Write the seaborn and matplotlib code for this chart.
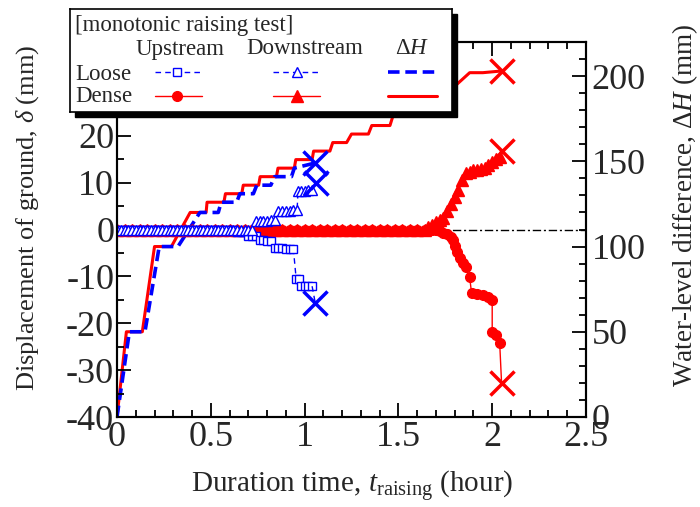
import numpy as np
import pandas as pd
import seaborn as sns
import matplotlib.pyplot as plt
from matplotlib.patches import Rectangle
from matplotlib.ticker import MultipleLocator, FixedLocator

# ---------------- data ----------------
# Water-level difference, Delta H (mm), vs duration time (hour)
t_dH_loose = [0.00, 0.066, 0.149, 0.225, 0.325, 0.442, 0.540, 0.555, 0.638, 0.655,
              0.727, 0.745, 0.820, 0.840, 0.930, 0.945, 1.055]
dH_loose = [0, 50, 50, 100, 100, 120, 120, 126, 126, 131,
            131, 136, 136, 141, 141, 146, 149]

t_dH_dense = [0.00, 0.050, 0.135, 0.200, 0.290, 0.390, 0.475, 0.480, 0.570, 0.578,
              0.665, 0.673, 0.755, 0.763, 0.850, 0.858, 0.945, 0.953, 1.040, 1.048,
              1.135, 1.150, 1.224, 1.250, 1.340, 1.358, 1.455, 1.472, 1.550, 1.570,
              1.650, 1.670, 1.745, 1.760, 1.800, 1.880, 1.950, 2.050]
dH_dense = [0, 50, 50, 100, 100, 120, 120, 126, 126, 131,
            131, 136, 136, 141, 141, 146, 146, 151, 151, 156,
            156, 161, 161, 166, 166, 171, 171, 177, 177, 182,
            182, 187, 187, 192, 194, 202, 202, 203]

# Displacement of ground, delta (mm) -- loose, upstream
t_up_loose = [0.00, 0.02, 0.04, 0.06, 0.08, 0.10, 0.12, 0.14, 0.16, 0.18,
              0.20, 0.22, 0.24, 0.26, 0.28, 0.30, 0.32, 0.34, 0.36, 0.38,
              0.40, 0.42, 0.44, 0.46, 0.48, 0.50, 0.52, 0.54, 0.56, 0.58,
              0.60, 0.62, 0.64, 0.66, 0.68, 0.70, 0.72, 0.74, 0.76, 0.78,
              0.80, 0.82, 0.84, 0.86, 0.88, 0.90, 0.92, 0.94, 0.955, 0.97,
              0.98, 1.00, 1.02, 1.04, 1.057]
d_up_loose = [0, 0, 0, 0, 0, 0, 0, 0, 0, 0,
              0, 0, 0, 0, 0, 0, 0, 0, 0, 0,
              0, 0, 0, 0, 0, 0, 0, 0, 0, 0,
              0, 0, -0.5, -0.5, -0.6, -1.3, -1.3, -1.4, -2.3, -2.3,
              -2.4, -2.4, -4.0, -4.0, -4.0, -4.1, -4.1, -4.1, -10.5, -10.6,
              -12.0, -12.0, -12.0, -12.1, -15.7]

# loose, downstream
t_dn_loose = [0.00, 0.02, 0.04, 0.06, 0.08, 0.10, 0.12, 0.14, 0.16, 0.18,
              0.20, 0.22, 0.24, 0.26, 0.28, 0.30, 0.32, 0.34, 0.36, 0.38,
              0.40, 0.42, 0.44, 0.46, 0.48, 0.50, 0.52, 0.54, 0.56, 0.58,
              0.60, 0.62, 0.64, 0.66, 0.68, 0.70, 0.72, 0.74, 0.76, 0.78,
              0.80, 0.82, 0.84, 0.86, 0.88, 0.90, 0.92, 0.94, 0.96, 0.965,
              0.98, 1.00, 1.02, 1.04, 1.06]
d_dn_loose = [0, 0, 0, 0, 0, 0, 0, 0, 0, 0,
              0, 0, 0, 0, 0, 0, 0, 0, 0, 0,
              0, 0, 0, 0, 0, 0, 0, 0, 0, 0,
              0, 0, 0, 0, 0, 0, 0, 1.9, 1.9, 1.9,
              1.9, 2.0, 2.0, 4.0, 4.0, 4.0, 4.0, 4.1, 4.1, 8.3,
              8.3, 8.3, 8.4, 8.4, 10.0]

# dense, upstream
t_up_dense = [0.00, 0.04, 0.08, 0.12, 0.16, 0.20, 0.24, 0.28, 0.32, 0.36,
              0.40, 0.44, 0.48, 0.52, 0.56, 0.60, 0.64, 0.68, 0.72, 0.76,
              0.80, 0.84, 0.88, 0.92, 0.96, 1.00, 1.04, 1.08, 1.12, 1.16,
              1.20, 1.24, 1.28, 1.32, 1.36, 1.40, 1.44, 1.48, 1.52, 1.56,
              1.60, 1.64, 1.68, 1.70, 1.72, 1.74, 1.76, 1.78, 1.79, 1.80,
              1.815, 1.83, 1.845, 1.86, 1.88, 1.89, 1.92, 1.95, 1.98, 2.00,
              2.00, 2.02, 2.04, 2.05]
d_up_dense = [0, 0, 0, 0, 0, 0, 0, 0, 0, 0,
              0, 0, 0, 0, 0, 0, 0, 0, 0, 0,
              0, 0, 0, 0, 0, 0, 0, 0, 0, 0,
              0, 0, 0, 0, 0, 0, 0, 0, 0, 0,
              0, 0, 0, 0, -0.4, -0.7, -1.0, -1.5, -2.3, -3.5,
              -4.8, -6.0, -7.2, -8.0, -10.2, -13.6, -13.8, -14.0, -14.3, -15.1,
              -21.8, -22.5, -24.3, -32.8]

# dense, downstream
t_dn_dense = [0.00, 0.04, 0.08, 0.12, 0.16, 0.20, 0.24, 0.28, 0.32, 0.36,
              0.40, 0.44, 0.48, 0.52, 0.56, 0.60, 0.64, 0.68, 0.72, 0.76,
              0.80, 0.84, 0.88, 0.92, 0.96, 1.00, 1.04, 1.08, 1.12, 1.16,
              1.20, 1.24, 1.28, 1.32, 1.36, 1.40, 1.44, 1.48, 1.52, 1.56,
              1.60, 1.64, 1.66, 1.68, 1.70, 1.72, 1.74, 1.76, 1.78, 1.80,
              1.82, 1.84, 1.86, 1.88, 1.90, 1.92, 1.94, 1.96, 1.98, 2.00,
              2.02, 2.04, 2.05]
d_dn_dense = [0, 0, 0, 0, 0, 0, 0, 0, 0, 0,
              0, 0, 0, 0, 0, 0, 0, 0, 0, 0,
              0, 0, 0, 0, 0, 0, 0, 0, 0, 0,
              0, 0, 0, 0, 0, 0, 0, 0, 0, 0,
              0, 0, 0.5, 1.0, 1.5, 2.0, 2.5, 4.0, 5.5, 7.0,
              8.5, 10.5, 12.0, 12.3, 12.6, 12.8, 13.0, 13.2, 13.8, 14.5,
              15.0, 15.5, 16.8]

x_ticks = [0, 0.5, 1, 1.5, 2, 2.5]
x_ticklabels = ["0", "0.5", "1", "1.5", "2", "2.5"]
left_ticks = [-40, -30, -20, -10, 0, 10, 20, 30, 40]
# the top two labels sit under the legend box
left_ticklabels = ["-40", "-30", "-20", "-10", "0", "10", "20", "", ""]
right_ticks = [0, 50, 100, 150, 200]

BLUE = "#0000ff"
RED = "#ff0000"

# ---------------- style ----------------
sns.set_theme(style="ticks")
plt.rcParams.update({
    "font.family": ["Liberation Serif", "DejaVu Serif"],
    "mathtext.fontset": "custom",
    "mathtext.rm": "Liberation Serif",
    "mathtext.it": "Liberation Serif:italic",
    "axes.unicode_minus": False,
    "xtick.direction": "in",
    "ytick.direction": "in",
    "axes.linewidth": 1.5,
})

fig = plt.figure(figsize=(7.0, 5.07), dpi=100)
ax = fig.add_axes([117 / 700, 90 / 507, 469 / 700, 375 / 507])
ax2 = ax.twinx()
ax.set_zorder(ax2.get_zorder() + 1)
ax.patch.set_visible(False)

# ---------------- water-level difference (right axis) ----------------
sns.lineplot(x=t_dH_dense, y=dH_dense, ax=ax2, sort=False, estimator=None,
             color=RED, linewidth=2.2)
sns.lineplot(x=t_dH_loose, y=dH_loose, ax=ax2, sort=False, estimator=None,
             color=BLUE, linewidth=2.6, linestyle=(0, (3.2, 1.6)))
sns.scatterplot(x=[t_dH_dense[-1]], y=[dH_dense[-1]], ax=ax2, marker="x",
                s=300, linewidth=2.5, color=RED, zorder=5)
sns.scatterplot(x=[t_dH_loose[-1]], y=[dH_loose[-1]], ax=ax2, marker="x",
                s=300, linewidth=2.5, color=BLUE, zorder=5)

# ---------------- ground displacement (left axis) ----------------
ax.axhline(0, color="black", linewidth=1.0, linestyle=(0, (6, 2, 1.5, 2)), zorder=1)

sns.lineplot(x=t_up_dense[:-1], y=d_up_dense[:-1], ax=ax, sort=False, estimator=None,
             color=RED, linewidth=1.0, marker="o", markersize=7,
             markerfacecolor=RED, markeredgecolor=RED, markeredgewidth=1.0)
ax.plot(t_up_dense[-2:], d_up_dense[-2:], color=RED, linewidth=1.0)
sns.lineplot(x=t_dn_dense[:-1], y=d_dn_dense[:-1], ax=ax, sort=False, estimator=None,
             color=RED, linewidth=1.0, marker="^", markersize=8,
             markerfacecolor=RED, markeredgecolor=RED, markeredgewidth=1.0)
ax.plot(t_dn_dense[-2:], d_dn_dense[-2:], color=RED, linewidth=1.0)

sns.lineplot(x=t_up_loose[:-1], y=d_up_loose[:-1], ax=ax, sort=False, estimator=None,
             color=BLUE, linewidth=1.0, linestyle=(0, (4, 3)), marker="s", markersize=6,
             markerfacecolor="white", markeredgecolor=BLUE, markeredgewidth=1.0)
ax.plot(t_up_loose[-2:], d_up_loose[-2:], color=BLUE, linewidth=1.0, linestyle=(0, (4, 3)))
sns.lineplot(x=t_dn_loose[:-1], y=d_dn_loose[:-1], ax=ax, sort=False, estimator=None,
             color=BLUE, linewidth=1.0, linestyle=(0, (4, 3)), marker="^", markersize=7,
             markerfacecolor="white", markeredgecolor=BLUE, markeredgewidth=1.0)
ax.plot(t_dn_loose[-2:], d_dn_loose[-2:], color=BLUE, linewidth=1.0, linestyle=(0, (4, 3)))

for tt, dd, cc in [(t_up_dense, d_up_dense, RED), (t_dn_dense, d_dn_dense, RED),
                   (t_up_loose, d_up_loose, BLUE), (t_dn_loose, d_dn_loose, BLUE)]:
    sns.scatterplot(x=[tt[-1]], y=[dd[-1]], ax=ax, marker="x", s=300,
                    linewidth=2.5, color=cc, zorder=6)

# ---------------- axes ----------------
ax.set_xlim(0, 2.5)
ax.set_ylim(-40, 40)
ax2.set_ylim(0, 220)
ax.set_xticks(x_ticks)
ax.set_xticklabels(x_ticklabels)
ax.xaxis.set_minor_locator(MultipleLocator(0.1))
ax.set_yticks(left_ticks)
ax.set_yticklabels(left_ticklabels)
ax.yaxis.set_minor_locator(MultipleLocator(5))
ax2.yaxis.set_major_locator(FixedLocator(right_ticks))
ax2.yaxis.set_minor_locator(MultipleLocator(10))

ax.tick_params(axis="x", which="both", top=True, bottom=True, labelsize=26, pad=3)
ax.tick_params(axis="y", which="both", left=True, right=False, labelsize=26, pad=2)
ax.tick_params(which="major", length=10, width=1.3, color="black")
ax.tick_params(which="minor", length=5, width=1.3, color="black")
ax2.tick_params(axis="y", which="both", right=True, left=False, labelsize=26, pad=4)
ax2.tick_params(which="major", length=10, width=1.3, color="black")
ax2.tick_params(which="minor", length=5, width=1.3, color="black")
for a in (ax, ax2):
    for sp in a.spines.values():
        sp.set_visible(True)
        sp.set_color("black")
        sp.set_linewidth(1.5)
    a.set_xlabel("")
    a.set_ylabel("")

fig.text(352 / 700, 1 - 487 / 507, r"Duration time, $t_{\mathrm{raising}}$ (hour)",
         ha="center", va="center", fontsize=21)
fig.text(28 / 700, 1 - 218 / 507, r"Displacement of ground, $\delta$ (mm)",
         ha="center", va="center", rotation=90, fontsize=19)
fig.text(685 / 700, 1 - 205 / 507, r"Water-level difference, $\Delta H$ (mm)",
         ha="center", va="center", rotation=90, fontsize=19.5)

# ---------------- legend box ----------------
bx0, by0, bx1, by1 = 70, 9, 452, 112
shadow = Rectangle(((bx0 + 5) / 700, 1 - (by1 + 5) / 507),
                   (bx1 - bx0) / 700, (by1 - by0) / 507,
                   transform=fig.transFigure, facecolor="black", edgecolor="black",
                   zorder=9)
fig.add_artist(shadow)
lg = fig.add_axes([bx0 / 700, 1 - by1 / 507, (bx1 - bx0) / 700, (by1 - by0) / 507])
lg.set_zorder(10)
lg.set_xlim(0, bx1 - bx0)
lg.set_ylim(by1 - by0, 0)
lg.set_xticks([])
lg.set_yticks([])
lg.set_facecolor("white")
for sp in lg.spines.values():
    sp.set_visible(True)
    sp.set_color("black")
    sp.set_linewidth(1.2)

fs = 16.5
lg.text(5, 16, "[monotonic raising test]", ha="left", va="center", fontsize=fs)
lg.text(110, 40, "Upstream", ha="center", va="center", fontsize=fs)
lg.text(235, 40, "Downstream", ha="center", va="center", fontsize=fs)
lg.text(342, 40, r"$\Delta H$", ha="center", va="center", fontsize=fs)
lg.text(5, 65, "Loose", ha="left", va="center", fontsize=fs)
lg.text(5, 88, "Dense", ha="left", va="center", fontsize=fs)

yl, yd = 63, 87
lg.plot([85, 132], [yl, yl], color=BLUE, lw=1.0, ls=(0, (4, 3)))
lg.plot([107], [yl], marker="s", ms=6, mfc="white", mec=BLUE, mew=1.0)
lg.plot([203, 250], [yl, yl], color=BLUE, lw=1.0, ls=(0, (4, 3)))
lg.plot([227], [yl], marker="^", ms=7, mfc="white", mec=BLUE, mew=1.0)
lg.plot([318, 367], [yl, yl], color=BLUE, lw=2.6, ls=(0, (3.2, 1.6)))
lg.plot([85, 132], [yd, yd], color=RED, lw=1.0)
lg.plot([107], [yd], marker="o", ms=7, mfc=RED, mec=RED)
lg.plot([203, 250], [yd, yd], color=RED, lw=1.0)
lg.plot([227], [yd], marker="^", ms=8, mfc=RED, mec=RED)
lg.plot([318, 367], [yd, yd], color=RED, lw=2.2)

fig.savefig("out.png", dpi=100)
